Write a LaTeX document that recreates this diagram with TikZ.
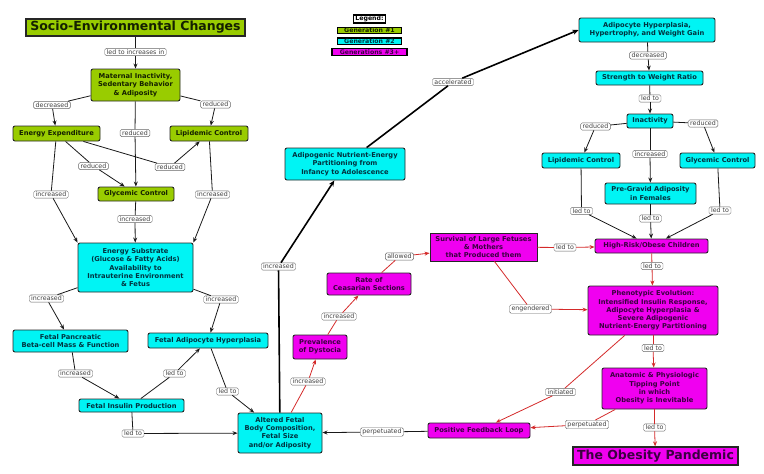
\documentclass[tikz,border=0pt]{standalone}
\usepackage{fontspec}
\setmainfont{DejaVu Sans}
\usetikzlibrary{arrows.meta, positioning}
\definecolor{genone}{HTML}{99CC00}
\definecolor{gentwo}{HTML}{00F4F4}
\definecolor{genthree}{HTML}{F000F0}
\definecolor{txtone}{HTML}{142000}
\definecolor{txttwo}{HTML}{003340}
\definecolor{txtthree}{HTML}{3A0040}
\definecolor{linkred}{HTML}{D42A2A}

\begin{document}
\begin{tikzpicture}[
    x=1pt, y=-1pt,
    box/.style={draw=black!85, line width=0.9pt, rounded corners=2pt, align=center,
      inner sep=1pt, font=\fontsize{6.7}{8.3}\selectfont\bfseries},
    gen1/.style={box, fill=genone, text=txtone},
    gen2/.style={box, fill=gentwo, text=txttwo},
    gen3/.style={box, fill=genthree, text=txtthree},
    bigbox/.style={sharp corners, line width=1.3pt, font=\fontsize{12.5}{14}\selectfont\bfseries},
    legbox/.style={draw=black, line width=1.1pt, inner xsep=2pt, inner ysep=1pt,
      font=\fontsize{6.2}{7.2}\selectfont\bfseries},
    lbl/.style={draw=black!60, fill=white, rounded corners=1.5pt, inner xsep=2pt, inner ysep=1.2pt,
      font=\fontsize{6.3}{7}\selectfont, text=black!75},
    link/.style={draw=black!90, line width=0.8pt},
    arr/.style={link, -{Stealth[length=5pt, width=4pt]}},
    thicklink/.style={draw=black, line width=1.6pt},
    thickarr/.style={thicklink, -{Stealth[length=6pt, width=5pt]}},
    redlink/.style={draw=linkred, line width=0.8pt},
    redarr/.style={redlink, -{Stealth[length=5pt, width=4pt]}},
  ]
  \useasboundingbox (0,0) rectangle (764,474);

  % legend
  \node[legbox, fill=white] (leg) at (369.5,19) {Legend:};
  \node[legbox, fill=genone, text=txtone, minimum width=64pt, below=3pt of leg] (leg1) {Generation \#1};
  \node[legbox, fill=gentwo, text=txttwo, minimum width=64pt, below=3pt of leg1] (leg2) {Generation \#2};
  \node[legbox, fill=genthree, text=txtthree, minimum width=75pt, below=3pt of leg2] (leg3) {Generations \#3+};

  % generation 1
  \node[gen1, bigbox, minimum width=219pt, minimum height=17pt] (socio) at (135.5,27.5) {Socio-Environmental Changes};
  \node[gen1, minimum width=89pt, minimum height=32pt] (mat) at (135.5,85) {Maternal Inactivity,\\Sedentary Behavior\\\& Adiposity};
  \node[gen1, minimum width=87pt, minimum height=15pt] (energy) at (56.5,133.5) {Energy Expenditure};
  \node[gen1, minimum width=78pt, minimum height=15pt] (lipidA) at (209,133.5) {Lipidemic Control};
  \node[gen1, minimum width=76pt, minimum height=14pt] (glycA) at (136,194) {Glycemic Control};

  % generation 2
  \node[gen2, minimum width=115pt, minimum height=49pt] (substrate) at (135.5,267.5) {Energy Substrate\\(Glucose \& Fatty Acids)\\Availability to\\Intrauterine Environment\\\& Fetus};
  \node[gen2, minimum width=115pt, minimum height=22pt] (pancreas) at (70.5,341) {Fetal Pancreatic\\Beta-cell Mass \& Function};
  \node[gen2, minimum width=120pt, minimum height=15pt] (fetadipo) at (208,340.5) {Fetal Adipocyte Hyperplasia};
  \node[gen2, minimum width=105pt, minimum height=13pt] (insulin) at (131.5,405.5) {Fetal Insulin Production};
  \node[gen2, minimum width=84pt, minimum height=40pt] (altered) at (280,433) {Altered Fetal\\Body Composition,\\Fetal Size\\and/or Adiposity};
  \node[gen2, minimum width=120pt, minimum height=32pt] (partition) at (345,164) {Adipogenic Nutrient-Energy\\Partitioning from\\Infancy to Adolescence};
  \node[gen2, minimum width=136pt, minimum height=24pt] (hyper) at (647,30) {Adipocyte Hyperplasia,\\Hypertrophy, and Weight Gain};
  \node[gen2, minimum width=107pt, minimum height=14pt] (strength) at (649.5,78) {Strength to Weight Ratio};
  \node[gen2, minimum width=46pt, minimum height=14pt] (inact) at (650,121) {Inactivity};
  \node[gen2, minimum width=78pt, minimum height=15pt] (lipidB) at (581,160.5) {Lipidemic Control};
  \node[gen2, minimum width=75pt, minimum height=15pt] (glycB) at (717.5,160.5) {Glycemic Control};
  \node[gen2, minimum width=91pt, minimum height=21pt] (pregrav) at (650.5,193.5) {Pre-Gravid Adiposity\\in Females};

  % generations 3+
  \node[gen3, minimum width=113pt, minimum height=14pt] (highrisk) at (651.5,246) {High-Risk/Obese Children};
  \node[gen3, sharp corners, minimum width=107pt, minimum height=28pt] (survival) at (483.5,247) {Survival of Large Fetuses\\\& Mothers\\that Produced them};
  \node[gen3, minimum width=84pt, minimum height=22pt] (caesar) at (369,284) {Rate of\\Ceasarian Sections};
  \node[gen3, minimum width=54pt, minimum height=24pt] (dystocia) at (320,347) {Prevalence\\of Dystocia};
  \node[gen3, minimum width=102pt, minimum height=15pt] (loop) at (479,430.5) {Positive Feedback Loop};
  \node[gen3, minimum width=130pt, minimum height=49pt] (pheno) at (653,310.5) {Phenotypic Evolution:\\Intensified Insulin Response,\\Adipocyte Hyperplasia \&\\Severe Adipogenic\\Nutrient-Energy Partitioning};
  \node[gen3, minimum width=105pt, minimum height=41pt] (tipping) at (654.5,388.5) {Anatomic \& Physiologic\\Tipping Point\\in which\\Obesity is Inevitable};
  \node[gen3, bigbox, minimum width=165pt, minimum height=18pt] (pandemic) at (655.5,456) {The Obesity Pandemic};

  % link labels
  \node[lbl] (e1) at (135.5,52) {led to increases in};
  \node[lbl] (e2) at (52,105) {decreased};
  \node[lbl] (e3) at (215.5,104.5) {reduced};
  \node[lbl] (e4) at (135,133) {reduced};
  \node[lbl] (e5) at (93.5,166) {reduced};
  \node[lbl] (e6) at (170,167) {reduced};
  \node[lbl] (e7) at (51,194.5) {increased};
  \node[lbl] (e8) at (135,219) {increased};
  \node[lbl] (e9) at (212.5,194.5) {increased};
  \node[lbl] (e10) at (46.5,298.5) {increased};
  \node[lbl] (e11) at (221,299.5) {increased};
  \node[lbl] (e12) at (75.5,373.5) {increased};
  \node[lbl] (e13) at (174.5,373.5) {led to};
  \node[lbl] (e14) at (227.5,391.5) {led to};
  \node[lbl] (e15) at (133,433.5) {led to};
  \node[lbl] (e16) at (278.5,266.5) {increased};
  \node[lbl] (e17) at (453,82) {accelerated};
  \node[lbl] (e18) at (648,55.5) {decreased};
  \node[lbl] (e19) at (650,98.5) {led to};
  \node[lbl] (e20) at (595.5,126.5) {reduced};
  \node[lbl] (e21) at (703,123.5) {reduced};
  \node[lbl] (e22) at (650,154) {increased};
  \node[lbl] (e23) at (581.5,211) {led to};
  \node[lbl] (e24) at (650.5,218.5) {led to};
  \node[lbl] (e25) at (720,210.5) {led to};
  \node[lbl] (e26) at (652,266) {led to};
  \node[lbl] (e27) at (565,247.5) {led to};
  \node[lbl] (e28) at (308,381.5) {increased};
  \node[lbl] (e29) at (339,316.5) {increased};
  \node[lbl] (e30) at (399.5,256.5) {allowed};
  \node[lbl] (e31) at (530.5,309) {engendered};
  \node[lbl] (e32) at (653,348) {led to};
  \node[lbl] (e33) at (560.5,392) {initiated};
  \node[lbl] (e34) at (587,424.5) {perpetuated};
  \node[lbl] (e35) at (654.5,427.5) {led to};
  \node[lbl] (e36) at (382,432) {perpetuated};

  % links
  \draw[link] (socio) -- (e1);  \draw[arr] (e1) -- (mat);
  \draw[link] (mat) -- (e2);    \draw[arr] (e2) -- (energy);
  \draw[link] (mat) -- (e3);    \draw[arr] (e3) -- (lipidA);
  \draw[link] (mat) -- (e4);    \draw[arr] (e4) -- (glycA);
  \draw[link] (energy) -- (e5); \draw[arr] (e5) -- (glycA);
  \draw[link] (energy) -- (e6); \draw[arr] (e6) -- (lipidA);
  \draw[link] (energy) -- (e7); \draw[arr] (e7) -- (substrate.north west);
  \draw[link] (glycA) -- (e8);  \draw[arr] (e8) -- (substrate);
  \draw[link] (lipidA) -- (e9); \draw[arr] (e9) -- (substrate.north east);
  \draw[link] (substrate) -- (e10); \draw[arr] (e10) -- (pancreas);
  \draw[link] (substrate) -- (e11); \draw[arr] (e11) -- (fetadipo);
  \draw[link] (pancreas) -- (e12);  \draw[arr] (e12) -- (insulin);
  \draw[link] (insulin) -- (e13);   \draw[arr] (e13) -- (fetadipo);
  \draw[link] (fetadipo) -- (e14);  \draw[arr] (e14) -- (altered);
  \draw[link] (insulin) -- (e15);   \draw[arr] (e15) -- (altered);
  \draw[thicklink] (altered) -- (e16);  \draw[thickarr] (e16) -- (partition);
  \draw[thicklink] (partition) -- (e17); \draw[thickarr] (e17) -- (hyper.west);
  \draw[link] (hyper) -- (e18);    \draw[arr] (e18) -- (strength);
  \draw[link] (strength) -- (e19); \draw[arr] (e19) -- (inact);
  \draw[link] (inact) -- (e20);    \draw[arr] (e20) -- (lipidB);
  \draw[link] (inact) -- (e21);    \draw[arr] (e21) -- (glycB);
  \draw[link] (inact) -- (e22);    \draw[arr] (e22) -- (pregrav);
  \draw[link] (lipidB) -- (e23);   \draw[arr] (e23) -- (highrisk);
  \draw[link] (pregrav) -- (e24);  \draw[arr] (e24) -- (highrisk);
  \draw[link] (glycB) -- (e25);    \draw[arr] (e25) -- (highrisk);
  \draw[redlink] (highrisk) -- (e26); \draw[redarr] (e26) -- (pheno);
  \draw[redlink] (survival) -- (e27); \draw[redarr] (e27) -- (highrisk);
  \draw[redlink] (altered) -- (e28);  \draw[redarr] (e28) -- (dystocia);
  \draw[redlink] (dystocia) -- (e29); \draw[redarr] (e29) -- (caesar);
  \draw[redlink] (caesar) -- (e30);   \draw[redarr] (e30) -- (survival);
  \draw[redlink] (survival) -- (e31); \draw[redarr] (e31) -- (pheno);
  \draw[redlink] (pheno) -- (e32);    \draw[redarr] (e32) -- (tipping);
  \draw[redlink] (pheno) -- (e33);    \draw[redarr] (e33) -- (loop);
  \draw[redlink] (tipping) -- (e34);  \draw[redarr] (e34) -- (loop);
  \draw[redlink] (tipping) -- (e35);  \draw[redarr] (e35) -- (pandemic);
  \draw[link] (loop) -- (e36);        \draw[arr] (e36) -- (altered);
\end{tikzpicture}
\end{document}
